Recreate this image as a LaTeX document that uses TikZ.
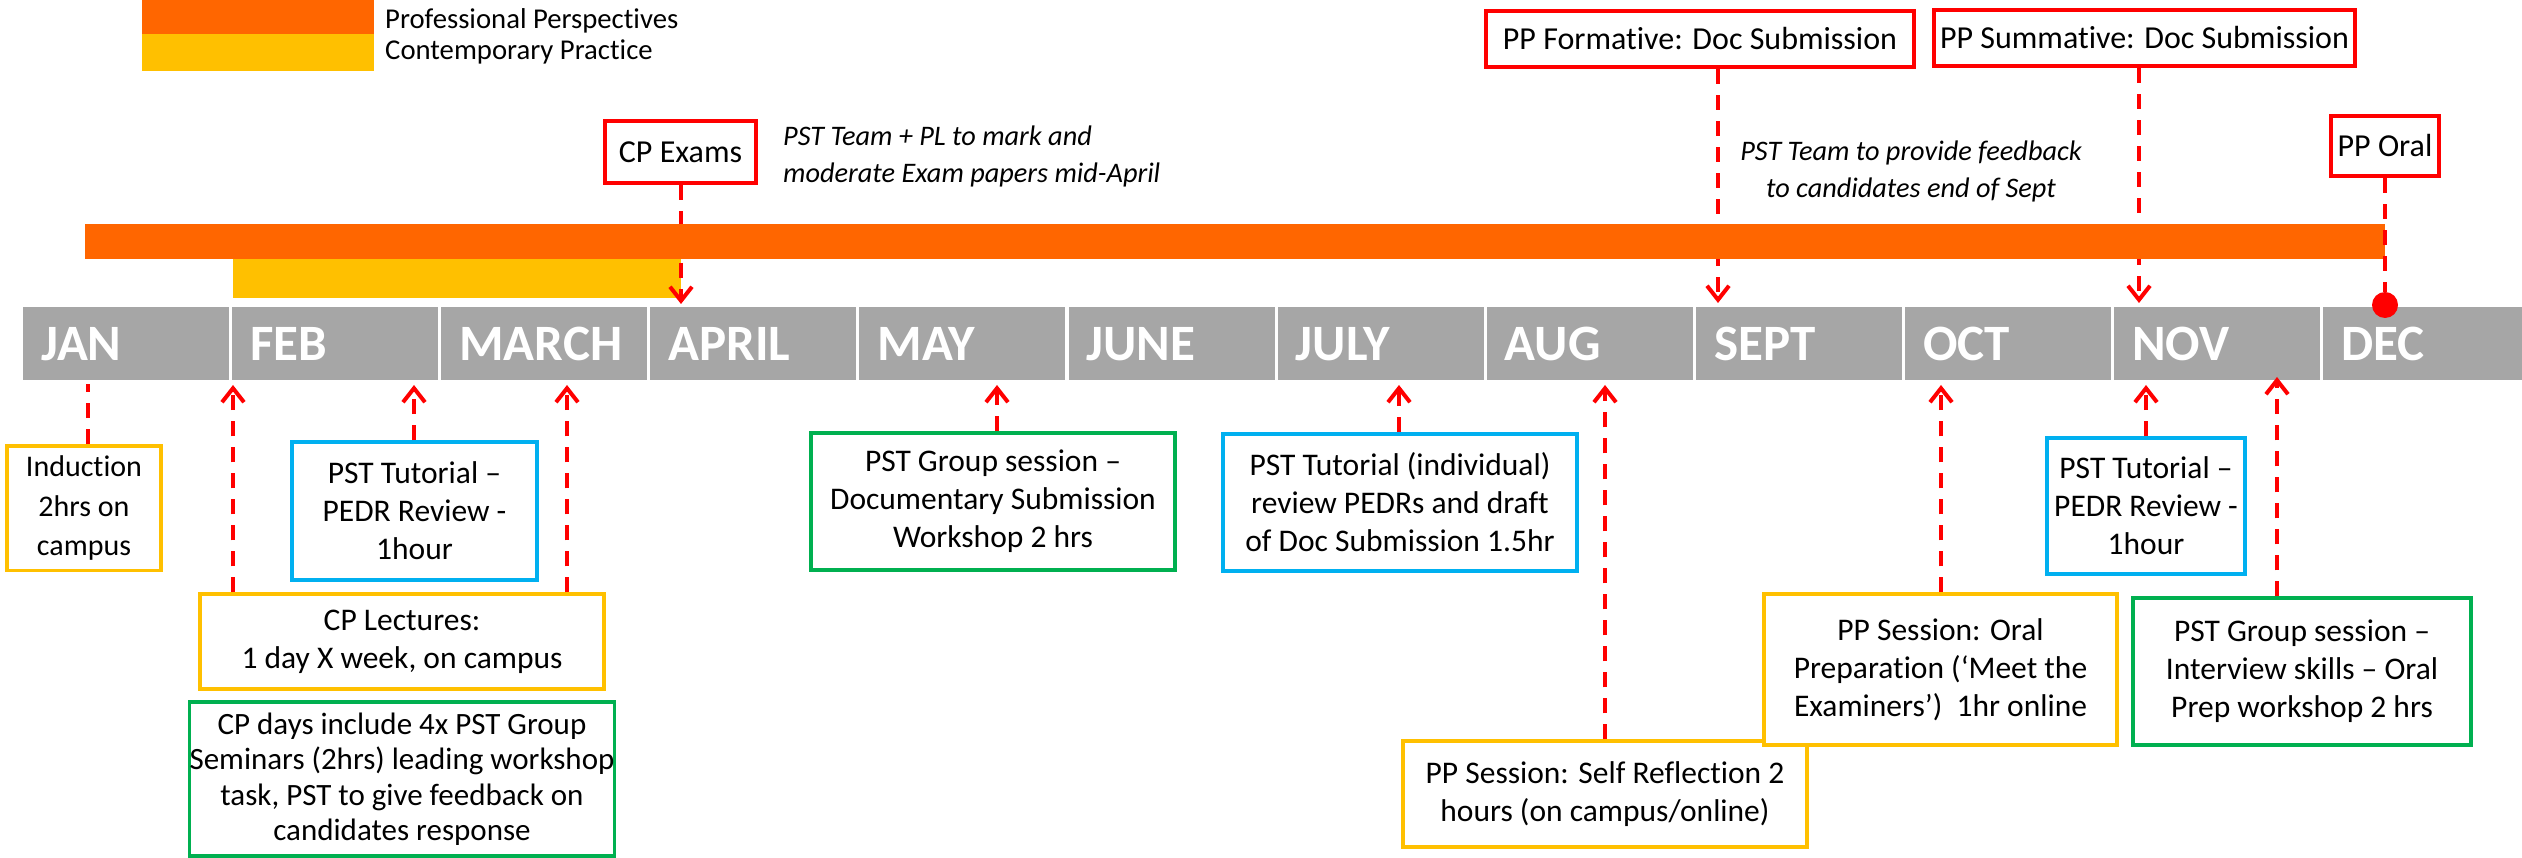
\documentclass[tikz,border=0pt]{standalone}
\usepackage{fontspec}
\setmainfont{Carlito}[Ligatures=NoCommon]
\usetikzlibrary{arrows.meta}
\definecolor{ppor}{HTML}{FF6600}
\definecolor{cpyl}{HTML}{FFC000}
\definecolor{mgray}{HTML}{A6A6A6}
\definecolor{bbl}{HTML}{00B0F0}
\definecolor{bgr}{HTML}{00B050}
\definecolor{rred}{HTML}{FF0000}
\begin{document}
\begin{tikzpicture}[x=1pt,y=-1pt,
  box/.style={draw=#1, line width=3.5pt, fill=white, align=center, inner sep=2pt, font=\fontsize{31.5}{38}\selectfont},
  redbox/.style={draw=rred, line width=4.5pt, fill=white, inner sep=0pt, font=\fontsize{32}{38}\selectfont},
  conn/.style={draw=rred, line width=4pt, dash pattern=on 15pt off 11pt, -{Straight Barb[length=14pt,width=22pt]}},
  plainconn/.style={draw=rred, line width=4pt, dash pattern=on 15pt off 11pt},
  cell/.style={fill=mgray, draw=none, minimum width=206pt, minimum height=73pt, inner sep=0pt},
  mlab/.style={anchor=base west, text=white, font=\fontsize{51}{55}\selectfont\bfseries, inner sep=0pt},
  note/.style={font=\fontsize{28.3}{37}\selectfont\itshape, inner sep=0pt},
  legtext/.style={anchor=base west, font=\fontsize{28.7}{30}\selectfont, inner sep=0pt},
]
\useasboundingbox (0,0) rectangle (2522,858);

% legend
\fill[ppor] (142,0) rectangle (374,34);
\fill[cpyl] (142,34) rectangle (374,71);
\node[legtext] (lg1) at (385,29) {Professional Perspectives};
\node[legtext] (lg2) at (385,60) {Contemporary Practice};

% month cells
\foreach \m [count=\i from 0] in {JAN,FEB,MARCH,APRIL,MAY,JUNE,JULY,AUG,SEPT,OCT,NOV,DEC}{
  \node[cell] (m\i) at ({23+209.1*\i+103},343.5) {};
  \node[mlab] (ml\i) at ({23+209.1*\i+18},361) {\m};
}

% top boxes
\node[redbox, minimum width=151pt, minimum height=62pt] (cpexam) at (680.5,152) {CP Exams};
\node[redbox, minimum width=428pt, minimum height=56pt] (ppform) at (1700,39) {PP Formative: Doc Submission};
\node[redbox, minimum width=421pt, minimum height=56pt] (ppsum) at (2144.5,38) {PP Summative: Doc Submission};
\node[redbox, minimum width=108pt, minimum height=60pt] (pporal) at (2385,146) {PP Oral};

\node[note, anchor=west, align=left] (n1) at (783,156) {PST Team + PL to mark and\\moderate Exam papers mid-April};
\node[note, align=center] (n2) at (1911,171) {PST Team to provide feedback\\to candidates end of Sept};

% bars and top connectors
\fill[cpyl] (233,259) rectangle (681,298);
\coordinate (cpx) at (681,304);
\draw[conn] (cpexam.south -| cpx) -- (cpx);
\coordinate (fmx) at (1718,303);
\draw[conn] (ppform.south -| fmx) -- (fmx);
\coordinate (smx) at (2139,303);
\draw[conn] (ppsum.south -| smx) -- (smx);
\fill[ppor] (85,224) rectangle (2385,259);
\node[circle, fill=rred, minimum size=26pt, inner sep=0pt] (dot) at (2385,305) {};
\draw[plainconn] (pporal.south) -- (dot.north);

% bottom boxes
\node[box=cpyl, minimum width=154pt, minimum height=124.5pt, font=\fontsize{30}{39.5}\selectfont] (induct) at (84,508) {Induction\\2hrs on\\campus};
\node[box=bbl, minimum width=245pt, minimum height=138pt] (tutfeb) at (414.5,511) {PST Tutorial –\\PEDR Review -\\1hour};
\node[box=cpyl, minimum width=404pt, minimum height=95pt] (cplect) at (402,641.5) {CP Lectures:\\1 day X week, on campus};
\node[box=bgr, minimum width=404pt, minimum height=154pt, inner xsep=0pt, font=\fontsize{31}{35.5}\selectfont] (cpdays) at (402,779) {CP days include 4x PST Group\\Seminars (2hrs) leading workshop\\task, PST to give feedback on\\candidates response};
\node[box=bgr, minimum width=364pt, minimum height=137pt] (grpmay) at (993,501.5) {PST Group session –\\Documentary Submission\\Workshop 2 hrs};
\node[box=bbl, minimum width=354pt, minimum height=137pt] (tutjul) at (1400,502.5) {PST Tutorial (individual)\\review PEDRs and draft\\of Doc Submission 1.5hr};
\node[box=cpyl, minimum width=404pt, minimum height=106pt] (selfref) at (1605,794) {PP Session: Self Reflection 2\\hours (on campus/online)};
\node[box=cpyl, minimum width=353pt, minimum height=151pt] (oral) at (1940.5,669.5) {PP Session: Oral\\Preparation (‘Meet the\\Examiners’)~~1hr online};
\node[box=bbl, minimum width=198pt, minimum height=136pt] (tutnov) at (2146,506) {PST Tutorial –\\PEDR Review -\\1hour};
\node[box=bgr, minimum width=338pt, minimum height=147pt] (grpdec) at (2302,671.5) {PST Group session –\\Interview skills – Oral\\Prep workshop 2 hrs};

% bottom connectors
\coordinate (b1) at (87.5,384);
\draw[plainconn] (induct.north -| b1) -- (b1);
\coordinate (b2) at (233,385);
\draw[conn] (cplect.north -| b2) -- (b2);
\coordinate (b3) at (414,385);
\draw[conn] (tutfeb.north -| b3) -- (b3);
\coordinate (b4) at (567,385);
\draw[conn] (cplect.north -| b4) -- (b4);
\coordinate (b5) at (997,385);
\draw[conn] (grpmay.north -| b5) -- (b5);
\coordinate (b6) at (1399,385);
\draw[conn] (tutjul.north -| b6) -- (b6);
\coordinate (b7) at (1605,385);
\draw[conn] (selfref.north -| b7) -- (b7);
\coordinate (b8) at (1941,385);
\draw[conn] (oral.north -| b8) -- (b8);
\coordinate (b9) at (2146,385);
\draw[conn] (tutnov.north -| b9) -- (b9);
\coordinate (b10) at (2277,377);
\draw[conn] (grpdec.north -| b10) -- (b10);
\end{tikzpicture}
\end{document}
